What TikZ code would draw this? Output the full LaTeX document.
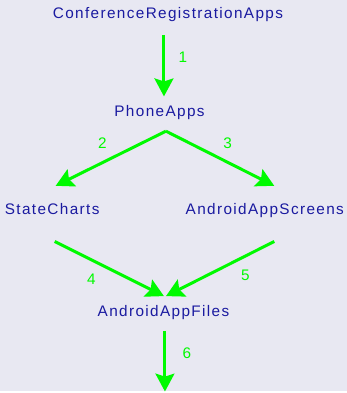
\documentclass[tikz,border=0pt]{standalone}
\usepackage{fontspec}
\setmainfont{Liberation Sans}[LetterSpace=9]
\usetikzlibrary{arrows.meta, calc}
\definecolor{bgcol}{RGB}{232,232,242}
\definecolor{boxtext}{RGB}{26,26,160}
\definecolor{flowgreen}{RGB}{0,250,0}

\begin{document}
\begin{tikzpicture}[x = 1pt, y = -1pt,
    item/.style = {text = boxtext, anchor = base, inner sep = 0pt, font = \fontsize{15.4}{18}\selectfont},
    flow/.style = {draw = flowgreen, line width = 3pt, -{Stealth[length = 18pt, width = 19pt, inset = 3pt]}},
    num/.style = {text = flowgreen, font = \fontsize{15.4}{18}\selectfont}]
    \fill[bgcol] (0,0) rectangle (349,393);
    \node[item] (conf)  at (169,19)    {ConferenceRegistrationApps};
    \node[item] (phone) at (160.5,117) {PhoneApps};
    \node[item] (sc)    at (52.5,216)  {StateCharts};
    \node[item] (aas)   at (266.5,216) {AndroidAppScreens};
    \node[item] (files) at (164.5,319) {AndroidAppFiles};
    \coordinate (sink) at (166,394);
    \draw[flow] ($(conf.base)+(-4,16)$) -- node[num, pos = 0.37, xshift = 19pt] {1} ($(phone.base)+(4.5,-20)$);
    \draw[flow] ($(phone.base)+(6.5,15)$) -- node[num, pos = 0.5, xshift = -8.5pt, yshift = 15.5pt] {2} ($(sc.base)+(3.5,-29)$);
    \draw[flow] ($(phone.base)+(6.5,15)$) -- node[num, pos = 0.5, xshift = 7.5pt, yshift = 15.5pt] {3} ($(aas.base)+(9.5,-29)$);
    \draw[flow] ($(sc.base)+(2.5,27)$) -- node[num, pos = 0.35, xshift = -1.5pt, yshift = -18.75pt] {4} ($(files.base)+(0.5,-21)$);
    \draw[flow] ($(aas.base)+(9.5,27)$) -- node[num, pos = 0.3, xshift = 3.7pt, yshift = -17.5pt] {5} ($(files.base)+(2.5,-21)$);
    \draw[flow] ($(files.base)+(1.5,14)$) -- node[num, pos = 0.37, xshift = 22pt] {6} (sink);
\end{tikzpicture}
\end{document}
